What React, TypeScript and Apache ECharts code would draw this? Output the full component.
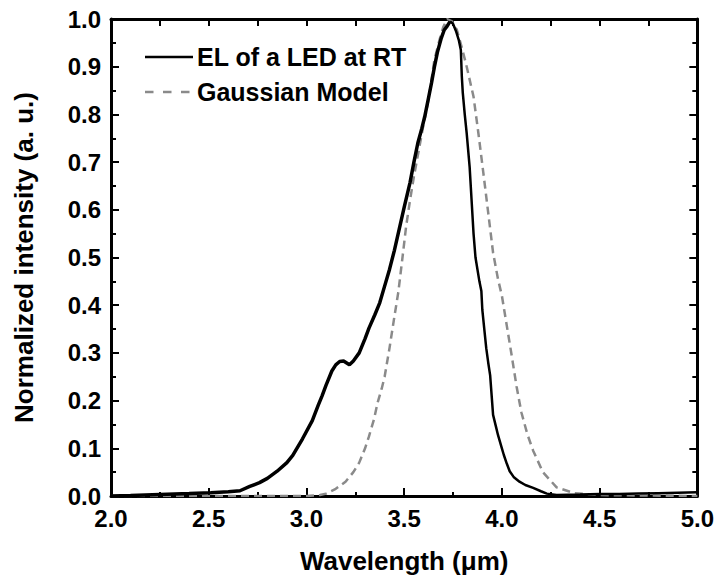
import React, { useEffect, useRef } from "react";
import * as echarts from "echarts";

const elWavelength = [
  2.0, 2.1, 2.25, 2.4, 2.51, 2.6, 2.66, 2.71, 2.76, 2.8, 2.85, 2.9, 2.93, 2.98, 3.03, 3.06, 3.08, 3.1,
  3.13, 3.15, 3.17, 3.19, 3.22, 3.24, 3.27, 3.3, 3.32, 3.35, 3.375, 3.4, 3.425, 3.45, 3.475, 3.5, 3.53,
  3.55, 3.57, 3.59, 3.605, 3.625, 3.64, 3.655, 3.67, 3.69, 3.705, 3.72, 3.735, 3.75, 3.765, 3.78, 3.79,
  3.795, 3.8, 3.81, 3.82, 3.835, 3.845, 3.855, 3.865, 3.885, 3.895, 3.9, 3.91, 3.92, 3.93, 3.94, 3.955,
  3.97, 3.98, 4.0, 4.01, 4.025, 4.04, 4.06, 4.09, 4.12, 4.16, 4.2, 4.23, 4.28, 4.4, 4.5, 4.6, 4.7, 4.8,
  4.9, 5.0,
];
const elIntensity = [
  0.0, 0.001, 0.003, 0.005, 0.007, 0.009, 0.011, 0.02, 0.028, 0.037, 0.052, 0.07, 0.085, 0.12, 0.158,
  0.19, 0.21, 0.232, 0.262, 0.275, 0.282, 0.283, 0.275, 0.283, 0.3, 0.33, 0.352, 0.38, 0.405, 0.44, 0.475,
  0.515, 0.56, 0.605, 0.657, 0.7, 0.74, 0.77, 0.795, 0.835, 0.866, 0.9, 0.93, 0.96, 0.977, 0.985, 0.995,
  0.99, 0.975, 0.955, 0.935, 0.88, 0.845, 0.8, 0.76, 0.69, 0.62, 0.55, 0.5, 0.45, 0.43, 0.39, 0.35, 0.31,
  0.28, 0.253, 0.17, 0.145, 0.128, 0.1, 0.086, 0.068, 0.052, 0.04, 0.03, 0.023, 0.017, 0.01, 0.005,
  0.002, 0.003, 0.004, 0.004, 0.005, 0.006, 0.007, 0.008,
];

const gaussWavelength = [
  2.0, 2.5, 3.0, 3.07, 3.1, 3.15, 3.2, 3.24, 3.27, 3.3, 3.32, 3.345, 3.365, 3.385, 3.4, 3.425, 3.45,
  3.47, 3.49, 3.51, 3.53, 3.55, 3.575, 3.595, 3.615, 3.63, 3.655, 3.68, 3.7, 3.72, 3.745, 3.77, 3.795,
  3.82, 3.855, 3.88, 3.905, 3.93, 3.955, 3.98, 4.0, 4.02, 4.05, 4.075, 4.1, 4.13, 4.16, 4.21, 4.28, 4.37,
  4.5, 5.0,
];
const gaussIntensity = [
  0.0, 0.0, 0.0, 0.002, 0.005, 0.015, 0.03, 0.05, 0.07, 0.1, 0.125, 0.16, 0.197, 0.225, 0.25, 0.31, 0.376,
  0.427, 0.495, 0.565, 0.62, 0.67, 0.725, 0.77, 0.81, 0.845, 0.915, 0.955, 0.983, 1.0, 0.995, 0.977, 0.94,
  0.9, 0.837, 0.76, 0.678, 0.594, 0.51, 0.455, 0.42, 0.37, 0.295, 0.23, 0.175, 0.13, 0.095, 0.05, 0.018,
  0.006, 0.002, 0.0,
];

const xTicks = [2.0, 2.5, 3.0, 3.5, 4.0, 4.5, 5.0];
const yTicks = [0.0, 0.1, 0.2, 0.3, 0.4, 0.5, 0.6, 0.7, 0.8, 0.9, 1.0];

const seriesNames = ["EL of a LED at RT", "Gaussian Model"];

const FONT = "'Liberation Sans', Arial, Helvetica, sans-serif";
const GRAY = "#8a8a8a";

export default function App() {
  const ref = useRef<HTMLDivElement>(null);

  useEffect(() => {
    if (!ref.current) return;
    const chart = echarts.init(ref.current, undefined, { renderer: "svg" });
    const elData = elWavelength.map((x, i) => [x, elIntensity[i]]);
    const peakIdx = elIntensity.indexOf(Math.max(...elIntensity));
    const elRising = elData.slice(0, peakIdx + 1);
    const elFalling = elData.slice(peakIdx);
    const gData = gaussWavelength.map((x, i) => [x, gaussIntensity[i]]);

    const axisLine = { show: true, onZero: false, lineStyle: { color: "#000", width: 3 } };
    const tickStyle = { color: "#000", width: 2 };
    const labelStyle = {
      margin: 10,
      fontFamily: FONT,
      fontSize: 24,
      fontWeight: "bold",
      color: "#000",
      formatter: (v: number) => v.toFixed(1),
    };
    const legendText = {
      fontFamily: FONT,
      fontSize: 25,
      fontWeight: "bold",
      fill: "#000",
      verticalAlign: "middle",
      align: "left",
    };

    chart.setOption({
      animation: false,
      backgroundColor: "#fff",
      textStyle: { fontFamily: FONT },
      grid: { left: 111, right: 19, top: 19, bottom: 82, containLabel: false },
      graphic: [
        {
          type: "line",
          shape: { x1: 145, y1: 57, x2: 193, y2: 57 },
          style: { stroke: "#000", lineWidth: 2.5 },
        },
        {
          type: "text",
          x: 197,
          y: 57,
          style: { ...legendText, text: seriesNames[0] },
        },
        {
          type: "line",
          shape: { x1: 145, y1: 92, x2: 193, y2: 92 },
          style: { stroke: GRAY, lineWidth: 2.5, lineDash: [8.5, 9.5] },
        },
        {
          type: "text",
          x: 197,
          y: 92,
          style: { ...legendText, text: seriesNames[1] },
        },
      ],
      xAxis: [
        {
          type: "value",
          min: xTicks[0],
          max: xTicks[xTicks.length - 1],
          interval: 0.5,
          position: "bottom",
          name: "Wavelength (\u03bcm)",
          nameLocation: "middle",
          nameGap: 52,
          nameTextStyle: { fontFamily: FONT, fontSize: 26, fontWeight: "bold", color: "#000" },
          axisLine,
          axisTick: { show: true, inside: true, length: 8, lineStyle: tickStyle },
          minorTick: { show: true, splitNumber: 2, length: 4, lineStyle: tickStyle },
          axisLabel: labelStyle,
          splitLine: { show: false },
        },
        {
          type: "value",
          min: xTicks[0],
          max: xTicks[xTicks.length - 1],
          interval: 0.5,
          position: "top",
          axisLine,
          axisTick: { show: true, inside: true, length: 7, lineStyle: tickStyle },
          minorTick: { show: true, splitNumber: 2, length: 7, lineStyle: tickStyle },
          axisLabel: { show: false },
          splitLine: { show: false },
        },
      ],
      yAxis: [
        {
          type: "value",
          min: yTicks[0],
          max: yTicks[yTicks.length - 1],
          interval: 0.1,
          position: "left",
          name: "Normalized intensity (a. u.)",
          nameLocation: "middle",
          nameGap: 74,
          nameRotate: 90,
          nameTextStyle: { fontFamily: FONT, fontSize: 26, fontWeight: "bold", color: "#000" },
          axisLine,
          axisTick: { show: true, inside: true, length: 8, lineStyle: tickStyle },
          minorTick: { show: true, splitNumber: 2, length: 5, lineStyle: tickStyle },
          axisLabel: labelStyle,
          splitLine: { show: false },
        },
        {
          type: "value",
          min: yTicks[0],
          max: yTicks[yTicks.length - 1],
          interval: 0.1,
          position: "right",
          axisLine,
          axisTick: { show: true, inside: true, length: 8, lineStyle: tickStyle },
          minorTick: { show: true, splitNumber: 2, length: 5, lineStyle: tickStyle },
          axisLabel: { show: false },
          splitLine: { show: false },
        },
      ],
      series: [
        {
          name: seriesNames[0],
          type: "line",
          data: elRising,
          symbol: "none",
          showSymbol: false,
          lineStyle: { color: "#000", width: 3.5 },
          itemStyle: { color: "#000" },
          z: 3,
        },
        {
          name: seriesNames[0],
          type: "line",
          data: elFalling,
          symbol: "none",
          showSymbol: false,
          lineStyle: { color: "#000", width: 2.5 },
          itemStyle: { color: "#000" },
          z: 3,
        },
        {
          name: seriesNames[1],
          type: "line",
          data: gData,
          symbol: "none",
          showSymbol: false,
          lineStyle: { color: GRAY, width: 2.5, type: [8, 5] },
          itemStyle: { color: GRAY },
          z: 2,
        },
      ],
    });
    return () => chart.dispose();
  }, []);

  return (
    <div
      ref={ref}
      style={{ width: 717, height: 579, position: "absolute", left: 0, top: 0, background: "#fff" }}
    />
  );
}
